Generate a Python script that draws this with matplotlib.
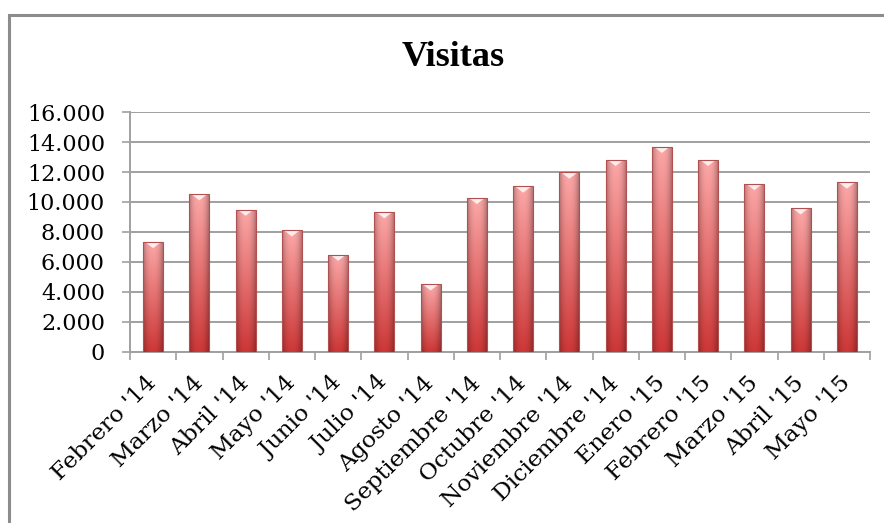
import numpy as np
import matplotlib
matplotlib.use('Agg')
import matplotlib.pyplot as plt
import matplotlib.transforms as mtransforms
from matplotlib.patches import Rectangle, Polygon
from matplotlib.ticker import FuncFormatter, MultipleLocator

months = ["Febrero '14", "Marzo '14", "Abril '14", "Mayo '14", "Junio '14",
          "Julio '14", "Agosto '14", "Septiembre '14", "Octubre '14",
          "Noviembre '14", "Diciembre '14", "Enero '15", "Febrero '15",
          "Marzo '15", "Abril '15", "Mayo '15"]
visits = [7340, 10530, 9500, 8120, 6500, 9330, 4520, 10280, 11040,
          11970, 12820, 13690, 12820, 11210, 9590, 11310]
title = "Visitas"

fig = plt.figure(figsize=(8.84, 5.23), dpi=100)
ax = fig.add_axes([130 / 884, 1 - 352 / 523, 740 / 884, 240 / 523])

# outer chart frame (cut off at right and bottom like the screenshot)
fig.patches.append(Rectangle((9 / 884, -0.1), 1.2, 1 - 15 / 523 + 0.1,
                             transform=fig.transFigure, fill=False,
                             edgecolor='#8c8c8c', linewidth=2.2))

x = np.arange(len(months))
width = 0.43
bars = ax.bar(x, visits, width=width, color='#e06060', zorder=2, linewidth=0)

# vertical / horizontal gradient for each bar
ny, nx = 64, 32
v = np.linspace(0, 1, ny)[:, None]          # 0 bottom -> 1 top
h = np.linspace(-1, 1, nx)[None, :]
top = np.array([252, 168, 168]) / 255
bot = np.array([205, 55, 55]) / 255
base = bot + (top - bot) * v[..., None]
shade = 1 - 0.28 * np.abs(h) ** 2.5
grad = np.clip(base * shade[..., None], 0, 1)

for b, val in zip(bars, visits):
    x0 = b.get_x()
    im = ax.imshow(grad, extent=[x0, x0 + width, 0, val], origin='lower',
                   aspect='auto', zorder=3, interpolation='bilinear')
    im.set_clip_path(b)
    tri = Polygon([[x0 + 0.04, val], [x0 + width - 0.04, val],
                   [x0 + width / 2, val - 420]], closed=True,
                  facecolor='white', edgecolor='none', alpha=0.8, zorder=4)
    ax.add_patch(tri)
    ax.add_patch(Rectangle((x0, 0), width, val, fill=False,
                           edgecolor='#b05050', linewidth=0.8, zorder=4))

ax.set_xlim(-0.5, len(months) - 0.5)
ax.set_ylim(0, 16000)
ax.yaxis.set_major_locator(MultipleLocator(2000))
ax.yaxis.set_major_formatter(FuncFormatter(lambda val, p: f"{int(val):,}".replace(',', '.')))
ax.grid(axis='y', color='#a0a0a0', linewidth=1.4, zorder=0)
ax.set_axisbelow(True)

ax.set_xticks(x)
ax.set_xticks(np.arange(-0.5, len(months)), minor=True)
ax.set_xticklabels(months, rotation=45, ha='right', va='center',
                   rotation_mode='anchor', fontfamily='DejaVu Serif', fontsize=16.8)
shift = mtransforms.ScaledTranslation(6 / 100, 0, fig.dpi_scale_trans)
for lab in ax.get_xticklabels():
    lab.set_transform(lab.get_transform() + shift)
ax.tick_params(axis='x', which='major', length=0, pad=20)
ax.tick_params(axis='x', which='minor', length=6, color='#a0a0a0', width=1.2)
ax.tick_params(axis='y', length=6, color='#a0a0a0', width=1.2, pad=12)
for lab in ax.get_yticklabels():
    lab.set_fontfamily('DejaVu Serif')
    lab.set_fontsize(16)

for s in ['top', 'right']:
    ax.spines[s].set_visible(False)
for s in ['left', 'bottom']:
    ax.spines[s].set_color('#a0a0a0')
    ax.spines[s].set_linewidth(1.4)

fig.text(453 / 884, 1 - 57 / 523, title, ha='center', va='center',
         fontfamily='Liberation Serif', fontweight='bold', fontsize=26)

fig.savefig('out.png', dpi=100)
